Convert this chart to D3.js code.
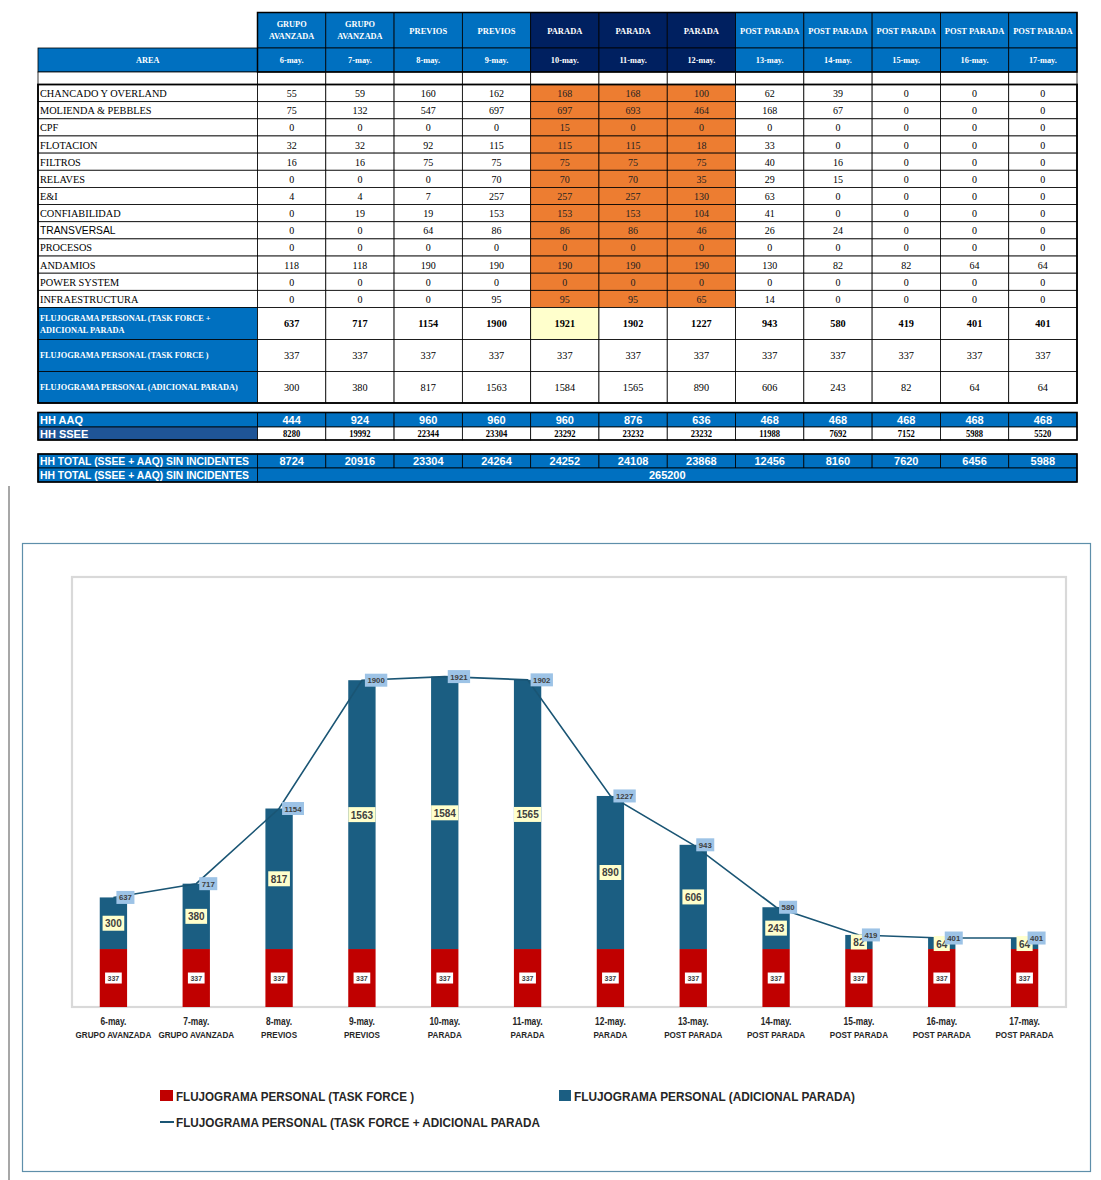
<!DOCTYPE html>
<html><head><meta charset="utf-8">
<script src="https://cdn.jsdelivr.net/npm/d3@7"></script>
<style>
html,body{margin:0;padding:0;background:#fff;}
svg{display:block;}
</style></head>
<body>
<svg id="c" width="1101" height="1180"></svg>
<script>
// ---------- DATA ----------
const dates = ["6-may.","7-may.","8-may.","9-may.","10-may.","11-may.","12-may.","13-may.","14-may.","15-may.","16-may.","17-may."];
const phases = ["GRUPO AVANZADA","GRUPO AVANZADA","PREVIOS","PREVIOS","PARADA","PARADA","PARADA","POST PARADA","POST PARADA","POST PARADA","POST PARADA","POST PARADA"];
const areas = ["CHANCADO Y OVERLAND","MOLIENDA & PEBBLES","CPF","FLOTACION","FILTROS","RELAVES","E&I","CONFIABILIDAD","TRANSVERSAL","PROCESOS","ANDAMIOS","POWER SYSTEM","INFRAESTRUCTURA"];
const chancado = [55,59,160,162,168,168,100,62,39,0,0,0];
const molienda = [75,132,547,697,697,693,464,168,67,0,0,0];
const cpf = [0,0,0,0,15,0,0,0,0,0,0,0];
const flotacion = [32,32,92,115,115,115,18,33,0,0,0,0];
const filtros = [16,16,75,75,75,75,75,40,16,0,0,0];
const relaves = [0,0,0,70,70,70,35,29,15,0,0,0];
const eyi = [4,4,7,257,257,257,130,63,0,0,0,0];
const confiabilidad = [0,19,19,153,153,153,104,41,0,0,0,0];
const transversal = [0,0,64,86,86,86,46,26,24,0,0,0];
const procesos = [0,0,0,0,0,0,0,0,0,0,0,0];
const andamios = [118,118,190,190,190,190,190,130,82,82,64,64];
const powerSystem = [0,0,0,0,0,0,0,0,0,0,0,0];
const infraestructura = [0,0,0,95,95,95,65,14,0,0,0,0];
const areaValues = [chancado,molienda,cpf,flotacion,filtros,relaves,eyi,confiabilidad,transversal,procesos,andamios,powerSystem,infraestructura];

const totalPersonal = [637,717,1154,1900,1921,1902,1227,943,580,419,401,401];
const taskForce = [337,337,337,337,337,337,337,337,337,337,337,337];
const adicional = [300,380,817,1563,1584,1565,890,606,243,82,64,64];
const hhAAQ = [444,924,960,960,960,876,636,468,468,468,468,468];
const hhSSEE = [8280,19992,22344,23304,23292,23232,23232,11988,7692,7152,5988,5520];
const hhTotal = [8724,20916,23304,24264,24252,24108,23868,12456,8160,7620,6456,5988];
const grandTotal = 265200;

const seriesNames = ["FLUJOGRAMA PERSONAL (TASK FORCE )","FLUJOGRAMA PERSONAL (ADICIONAL PARADA)","FLUJOGRAMA PERSONAL (TASK FORCE + ADICIONAL PARADA"];

// ---------- STYLES ----------
const BLUE = "#0070C0", NAVY = "#002060", ORANGE = "#ED7D31", YEL = "#FFFFCC", SSEE = "#1F5597";
const SERIF = "'Liberation Serif','Times New Roman',serif";
const SANS = "'Liberation Sans',Arial,sans-serif";

const svg = d3.select("#c");

function condense(sel, f){
  const n = sel.node();
  const L = n.getComputedTextLength();
  sel.attr("textLength", L*f).attr("lengthAdjust","spacingAndGlyphs");
  return sel;
}
function fitTo(sel, w){
  sel.attr("textLength", w).attr("lengthAdjust","spacingAndGlyphs");
  return sel;
}

// ---------- TABLE ----------
const col = d3.scaleBand().domain(d3.range(12)).range([257.5,1077]);
const areaX0 = 38, areaX1 = 257.5;
const T = svg.append("g");
const isParada = i => i>=4 && i<=6;

function cell(x,y,w,h,fill,sw){
  T.append("rect").attr("x",x).attr("y",y).attr("width",w).attr("height",h)
   .attr("fill",fill).attr("stroke","#000").attr("stroke-width",sw||0.8);
}
function txt(x,y,s,opt){
  const t = T.append("text").attr("x",x).attr("y",y).text(s)
   .attr("dominant-baseline","central")
   .attr("text-anchor",opt.anchor||"middle")
   .attr("font-family",opt.font||SERIF)
   .attr("font-size",opt.size||10)
   .attr("font-weight",opt.bold?"bold":"normal")
   .attr("fill",opt.color||"#000");
  return t;
}

// header rows
const h1y=12.5,h1h=35.5,h2y=48,h2h=24,by=72,bh=12.5;
dates.forEach((d,i)=>{
  const f = isParada(i)?NAVY:BLUE;
  cell(col(i),h1y,col.bandwidth(),h1h,f);
  const p = phases[i];
  if(p==="GRUPO AVANZADA"){
    txt(col(i)+col.bandwidth()/2,h1y+11.5,"GRUPO",{size:8.3,bold:true,color:"#fff"});
    txt(col(i)+col.bandwidth()/2,h1y+24,"AVANZADA",{size:8.3,bold:true,color:"#fff"});
  } else {
    txt(col(i)+col.bandwidth()/2,h1y+18,p,{size:8.5,bold:true,color:"#fff"});
  }
  cell(col(i),h2y,col.bandwidth(),h2h,f);
  txt(col(i)+col.bandwidth()/2,h2y+12.5,d,{size:8.3,bold:true,color:"#fff"});
  cell(col(i),by,col.bandwidth(),bh,"#fff");
});
cell(areaX0,h2y,areaX1-areaX0,h2h,BLUE);
txt((areaX0+areaX1)/2,h2y+12.5,"AREA",{size:8.3,bold:true,color:"#fff"});
cell(areaX0,by,areaX1-areaX0,bh,"#fff");

// data rows
const rH = (307.5-84.5)/13;
const row = d3.scaleBand().domain(d3.range(13)).range([84.5,307.5]);
areas.forEach((a,r)=>{
  const y = row(r);
  cell(areaX0,y,areaX1-areaX0,rH,"#fff");
  txt(areaX0+2,y+rH/2+0.5,a,{anchor:"start",size:10.3,font:a==="TRANSVERSAL"?SANS:SERIF});
  areaValues[r].forEach((v,i)=>{
    cell(col(i),y,col.bandwidth(),rH,isParada(i)?ORANGE:"#fff");
    txt(col(i)+col.bandwidth()/2,y+rH/2+0.5,v,{size:10,color:isParada(i)?"#222":"#000"});
  });
});

// summary rows
const sumRows = [
  {lab:["FLUJOGRAMA PERSONAL (TASK FORCE +","ADICIONAL PARADA"],vals:totalPersonal,bold:true,y:307.5,h:32},
  {lab:["FLUJOGRAMA PERSONAL (TASK FORCE )"],vals:taskForce,bold:false,y:339.5,h:32},
  {lab:["FLUJOGRAMA PERSONAL (ADICIONAL PARADA)"],vals:adicional,bold:false,y:371.5,h:31.5}
];
sumRows.forEach((sr,k)=>{
  cell(areaX0,sr.y,areaX1-areaX0,sr.h,BLUE);
  if(sr.lab.length===2){
    txt(areaX0+2,sr.y+10.5,sr.lab[0],{anchor:"start",size:8.3,bold:true,color:"#fff"});
    txt(areaX0+2,sr.y+22.5,sr.lab[1],{anchor:"start",size:8.3,bold:true,color:"#fff"});
  } else {
    txt(areaX0+2,sr.y+sr.h/2,sr.lab[0],{anchor:"start",size:8.3,bold:true,color:"#fff"});
  }
  sr.vals.forEach((v,i)=>{
    cell(col(i),sr.y,col.bandwidth(),sr.h,(k===0&&i===4)?YEL:"#fff");
    txt(col(i)+col.bandwidth()/2,sr.y+sr.h/2,v,{size:10.3,bold:sr.bold});
  });
});
T.append("rect").attr("x",areaX0).attr("y",84.5).attr("width",1077-areaX0).attr("height",403-84.5)
 .attr("fill","none").attr("stroke","#000").attr("stroke-width",1.8);
T.append("rect").attr("x",257.5).attr("y",12.5).attr("width",1077-257.5).attr("height",59.5)
 .attr("fill","none").attr("stroke","#000").attr("stroke-width",1.5);

// HH rows
cell(areaX0,412.5,areaX1-areaX0,14.5,BLUE);
txt(areaX0+2,420,"HH AAQ",{anchor:"start",size:11,bold:true,font:SANS,color:"#fff"});
cell(areaX0,427,areaX1-areaX0,13,SSEE);
txt(areaX0+2,434,"HH SSEE",{anchor:"start",size:11,bold:true,font:SANS,color:"#fff"});
hhAAQ.forEach((v,i)=>{
  cell(col(i),412.5,col.bandwidth(),14.5,BLUE);
  txt(col(i)+col.bandwidth()/2,420,v,{size:11,bold:true,font:SANS,color:"#fff"});
});
hhSSEE.forEach((v,i)=>{
  cell(col(i),427,col.bandwidth(),13,"#fff");
  condense(txt(col(i)+col.bandwidth()/2,434,v,{size:9.5,bold:true}),0.9);
});
T.append("rect").attr("x",areaX0).attr("y",412.5).attr("width",1077-areaX0).attr("height",27.5)
 .attr("fill","none").attr("stroke","#000").attr("stroke-width",1.6);

cell(areaX0,454,areaX1-areaX0,14,BLUE);
fitTo(txt(areaX0+2,461,"HH TOTAL (SSEE + AAQ) SIN INCIDENTES",{anchor:"start",size:11,bold:true,font:SANS,color:"#fff"}),209);
hhTotal.forEach((v,i)=>{
  cell(col(i),454,col.bandwidth(),14,BLUE);
  txt(col(i)+col.bandwidth()/2,461,v,{size:11,bold:true,font:SANS,color:"#fff"});
});
cell(areaX0,468,areaX1-areaX0,14,BLUE);
fitTo(txt(areaX0+2,475,"HH TOTAL (SSEE + AAQ) SIN INCIDENTES",{anchor:"start",size:11,bold:true,font:SANS,color:"#fff"}),209);
cell(257.5,468,1077-257.5,14,BLUE);
txt((257.5+1077)/2,475,grandTotal,{size:11,bold:true,font:SANS,color:"#fff"});
T.append("rect").attr("x",areaX0).attr("y",454).attr("width",1077-areaX0).attr("height",28)
 .attr("fill","none").attr("stroke","#000").attr("stroke-width",1.6);

// left gray line
svg.append("line").attr("x1",9).attr("x2",9).attr("y1",486).attr("y2",1180)
 .attr("stroke","#8a8a8a").attr("stroke-width",1.5);

// ---------- CHART ----------
const C = svg.append("g");
C.append("rect").attr("x",22.5).attr("y",543.5).attr("width",1068).attr("height",628)
 .attr("fill","#fff").attr("stroke","#5E8FAA").attr("stroke-width",1.2);
const pl=72, pr=1066, pt=577, pb=1007;
C.append("rect").attr("x",pl).attr("y",pt).attr("width",pr-pl).attr("height",pb-pt)
 .attr("fill","#fff").attr("stroke","#d9d9d9").attr("stroke-width",2.2);

const x = d3.scaleBand().domain(dates).range([pl,pr]).paddingInner(0.67).paddingOuter(0.335);
const y = d3.scaleLinear().domain([0,2500]).range([pb,pt]);
const RED="#C00000", TEAL="#1B5E82", LINE="#1A5574";

const bw = x.bandwidth();
C.selectAll(".tf").data(dates).join("rect")
 .attr("x",d=>x(d)).attr("width",bw)
 .attr("y",(d,i)=>y(taskForce[i])).attr("height",(d,i)=>y(0)-y(taskForce[i]))
 .attr("fill",RED);
C.selectAll(".ad").data(dates).join("rect")
 .attr("x",d=>x(d)).attr("width",bw)
 .attr("y",(d,i)=>y(taskForce[i]+adicional[i])).attr("height",(d,i)=>y(taskForce[i])-y(taskForce[i]+adicional[i]))
 .attr("fill",TEAL);

const line = d3.line().x((v,i)=>x(dates[i])+bw/2).y(v=>y(v));
C.append("path").datum(totalPersonal).attr("d",line).attr("fill","none")
 .attr("stroke",LINE).attr("stroke-width",1.6);

function boxLabel(cx,cy,s,size,bg,anchor,padX,h){
  const g = C.append("g");
  const t = g.append("text").text(s).attr("font-family",SANS).attr("font-weight","bold")
   .attr("font-size",size).attr("fill","#404040").attr("dominant-baseline","central")
   .attr("text-anchor","middle");
  const w = t.node().getComputedTextLength()+padX*2;
  const x0 = anchor==="start"?cx:cx-w/2;
  t.attr("x",x0+w/2).attr("y",cy+0.5);
  g.insert("rect","text").attr("x",x0).attr("y",cy-h/2).attr("width",w).attr("height",h).attr("fill",bg);
}
taskForce.forEach((v,i)=>{
  boxLabel(x(dates[i])+bw/2,(y(0)+y(v))/2,v,7,"#fff","middle",2.5,11);
});
adicional.forEach((v,i)=>{
  boxLabel(x(dates[i])+bw/2,(y(taskForce[i])+y(taskForce[i]+v))/2,v,10,YEL,"middle",2.5,15);
});
totalPersonal.forEach((v,i)=>{
  boxLabel(x(dates[i])+bw/2+3,y(v),v,7.8,"#9DC3E6","start",2.5,13);
});

// x axis labels
dates.forEach((d,i)=>{
  const cx = x(d)+bw/2;
  condense(C.append("text").attr("x",cx).attr("y",1025).attr("text-anchor","middle")
   .attr("font-family",SANS).attr("font-weight","bold").attr("font-size",10).attr("fill","#262626").text(d),0.84);
  condense(C.append("text").attr("x",cx).attr("y",1038).attr("text-anchor","middle")
   .attr("font-family",SANS).attr("font-weight","bold").attr("font-size",8.6).attr("fill","#262626").text(phases[i]),0.94);
});

// legend
const L = C.append("g");
L.append("rect").attr("x",160).attr("y",1090).attr("width",13).attr("height",11).attr("fill",RED);
fitTo(L.append("text").attr("x",176).attr("y",1096).attr("dominant-baseline","central")
 .attr("font-family",SANS).attr("font-weight","bold").attr("font-size",13.5).attr("fill","#262626").text(seriesNames[0]),238);
L.append("rect").attr("x",559).attr("y",1090).attr("width",12).attr("height",11).attr("fill",TEAL);
fitTo(L.append("text").attr("x",574).attr("y",1096).attr("dominant-baseline","central")
 .attr("font-family",SANS).attr("font-weight","bold").attr("font-size",13.5).attr("fill","#262626").text(seriesNames[1]),281);
L.append("line").attr("x1",160).attr("x2",174).attr("y1",1122).attr("y2",1122).attr("stroke",LINE).attr("stroke-width",2);
fitTo(L.append("text").attr("x",176).attr("y",1122).attr("dominant-baseline","central")
 .attr("font-family",SANS).attr("font-weight","bold").attr("font-size",13.5).attr("fill","#262626").text(seriesNames[2]),364);
</script>
</body></html>
